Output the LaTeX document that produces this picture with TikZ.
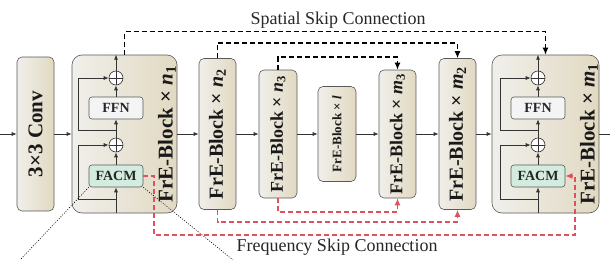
\documentclass[tikz,border=0pt]{standalone}
\usepackage{fontspec}
\setmainfont{Liberation Serif}
\usetikzlibrary{arrows.meta,calc}
\definecolor{blkL}{HTML}{F0EFEA}
\definecolor{blkR}{HTML}{E1D9C2}
\definecolor{facmC}{HTML}{D3ECDF}
\definecolor{ffnC}{HTML}{F4F4F4}
\definecolor{redC}{HTML}{E0505E}
\newcommand{\fsz}[1]{\fontsize{#1}{#1}\selectfont}
\begin{document}
\begin{tikzpicture}[x=1pt,y=-1pt,
  blk/.style={draw=black!65, line width=0.6pt, rounded corners=5pt, left color=blkL, right color=blkR, inner sep=0pt},
  bigblk/.style={blk, rounded corners=10pt},
  lbl/.style={rotate=90, font=\bfseries, inner sep=0pt, text=black!90},
  subbox/.style={draw=black!65, line width=0.6pt, rounded corners=3pt, minimum width=54pt, minimum height=22pt, inner sep=0pt, font=\bfseries\fsz{14}, text=black!85},
  plusnode/.style={circle, draw=black!80, line width=0.6pt, minimum size=14pt, inner sep=0pt, fill=white},
  ln/.style={draw=black!80, line width=0.7pt},
  arr/.style={-{Latex[length=5pt,width=4pt]}},
  darr/.style={-{Latex[length=7pt,width=6pt]}},
  sdash/.style={draw=black, line width=1.3pt, dash pattern=on 5pt off 3pt},
  rdash/.style={draw=redC, line width=1.3pt, dash pattern=on 5pt off 3pt},
  dotl/.style={draw=black, line width=0.6pt, dash pattern=on 1pt off 1.5pt},
  captxt/.style={font=\fsz{18}, text=black!85, inner sep=0pt}
]
\useasboundingbox (0,0) rectangle (610,260);

% blocks
\node[blk, minimum width=37pt, minimum height=154pt] (conv) at (35.5,134) {};
\node[lbl, font=\bfseries\fsz{21}] (convt) at (conv.center) {3×3 Conv};

\node[bigblk, minimum width=105pt, minimum height=158pt] (big1) at (124.5,134) {};
\node[blk, minimum width=37pt, minimum height=151pt] (n2) at (217.5,134) {};
\node[blk, minimum width=38pt, minimum height=128pt] (n3) at (278,134) {};
\node[blk, minimum width=38pt, minimum height=95pt] (l) at (337,134) {};
\node[blk, minimum width=37pt, minimum height=128pt] (m3) at (397.5,134) {};
\node[blk, minimum width=37pt, minimum height=151pt] (m2) at (457.5,134) {};
\node[bigblk, minimum width=107pt, minimum height=158pt] (big2) at (545.5,134) {};

\node[lbl, font=\bfseries\fsz{21}] (t1) at (167,134) {FrE-Block × {\itshape n}\textsubscript{1}};
\node[lbl, font=\bfseries\fsz{20}] (t2) at (n2.center) {FrE-Block × {\itshape n}\textsubscript{2}};
\node[lbl, font=\bfseries\fsz{18}] (t3) at (n3.center) {FrE-Block × {\itshape n}\textsubscript{3}};
\node[lbl, font=\bfseries\fsz{13}] (tl) at (l.center) {FrE-Block × {\itshape l}};
\node[lbl, font=\bfseries\fsz{18}] (t4) at (m3.center) {FrE-Block × {\itshape m}\textsubscript{3}};
\node[lbl, font=\bfseries\fsz{20}] (t5) at (m2.center) {FrE-Block × {\itshape m}\textsubscript{2}};
\node[lbl, font=\bfseries\fsz{21}] (t6) at (589,134) {FrE-Block × {\itshape m}\textsubscript{1}};

% internals of the two big blocks
\foreach \i/\x/\sx in {1/116/78, 2/538/500}{
  \node[subbox, fill=facmC] (fa\i) at (\x,176) {FACM};
  \node[subbox, fill=ffnC] (ff\i) at (\x,108) {FFN};
  \node[plusnode] (pa\i) at (\x,145) {};
  \node[plusnode] (pb\i) at (\x,78) {};
  \draw[ln] (pa\i.north) -- (pa\i.south) (pa\i.west) -- (pa\i.east);
  \draw[ln] (pb\i.north) -- (pb\i.south) (pb\i.west) -- (pb\i.east);
  \coordinate (bot\i) at (fa\i |- big\i.south);
  \coordinate (top\i) at (fa\i |- big\i.north);
  \draw[ln, arr] (bot\i) -- (fa\i.south);
  \draw[ln, arr] (fa\i.north) -- (pa\i.south);
  \draw[ln, arr] (pa\i.north) -- (ff\i.south);
  \draw[ln, arr] (ff\i.north) -- (pb\i.south);
  \draw[ln, arr] (pb\i.north) -- (top\i);
  \coordinate (sa\i) at (\x,199);
  \coordinate (sb\i) at (\x,130);
  \draw[ln, arr] (sa\i) -| (\sx,145) -- (pa\i.west);
  \draw[ln, arr] (sb\i) -| (\sx,78) -- (pb\i.west);
}

% main flow
\coordinate (in) at (0,134);
\coordinate (out) at (610,134);
\draw[ln, arr] (in) -- (conv.west);
\draw[ln, arr] (conv.east) -- (big1.west);
\draw[ln, arr] (big1.east) -- (n2.west);
\draw[ln, arr] (n2.east) -- (n3.west);
\draw[ln, arr] (n3.east) -- (l.west);
\draw[ln, arr] (l.east) -- (m3.west);
\draw[ln, arr] (m3.east) -- (m2.west);
\draw[ln, arr] (m2.east) -- (big2.west);
\draw[ln] (big2.east) -- (out);

% spatial skip connections
\draw[sdash, darr] (big1.north) -- ++(0,-23) -| (big2.north);
\draw[sdash, darr] (n2.north) -- (n2.north |- 0,43) -| (m2.north);
\draw[sdash, darr] (n3.north) -- (n3.north |- 0,57) -| (m3.north);

% frequency skip connections
\draw[rdash, darr] (n3.south) -- (n3.south |- 0,212) -| (m3.south);
\draw[rdash, darr] (n2.south) -- (n2.south |- 0,222) -| (m2.south);
\draw[rdash, darr] (fa1.east) -- (154,176) -- (154,235) -- (575,235) -- (575,176) -- (fa2.east);

% zoom lines
\coordinate (zl) at (20,260);
\coordinate (zr) at (233,260);
\draw[dotl] (fa1.south west) -- (zl);
\draw[dotl] (fa1.south east) -- (zr);

% captions
\node[captxt] (capS) at (338,20) {Spatial Skip Connection};
\node[captxt] (capF) at (337,247) {Frequency Skip Connection};
\end{tikzpicture}
\end{document}
